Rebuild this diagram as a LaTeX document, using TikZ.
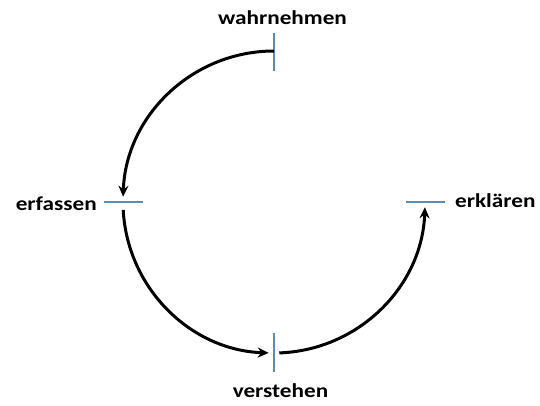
\documentclass[tikz,border=0pt]{standalone}
\usepackage{fontspec}
\setmainfont{Carlito}
\usetikzlibrary{calc,arrows.meta}
\definecolor{tickblue}{HTML}{5B8DB8}
\newcommand\lbtext[1]{\scalebox{1}[0.85]{#1}}
\tikzset{
  lbl/.style={font=\fontsize{23.2}{26}\selectfont\bfseries, inner sep=0pt},
  tickline/.style={draw=tickblue, line width=1.8pt},
  flow/.style={draw=black, line width=3pt, -{Stealth[length=11pt,width=10pt]}}
}
\begin{document}
\begin{tikzpicture}[x=1pt,y=1pt]
\useasboundingbox (0,0) rectangle (540,405);
\coordinate (C) at (274,203);
\def\R{151}
% ticks
\coordinate (tT) at ($(C)+(90:\R)$);
\coordinate (tL) at ($(C)+(180:\R)$);
\coordinate (tB) at ($(C)+(270:\R)$);
\coordinate (tR) at ($(C)+(0:\R)$);
\draw[tickline] ($(tT)+(0,18)$) -- ($(tT)+(0,-20)$);
\draw[tickline] ($(tL)+(-19,0)$) -- ($(tL)+(20,0)$);
\draw[tickline] ($(tB)+(0,20)$) -- ($(tB)+(0,-19)$);
\draw[tickline] ($(tR)+(-19,0)$) -- ($(tR)+(20,0)$);
% labels
\node[lbl, anchor=base] (w) at (282.5,380) {\lbtext{wahrnehmen}};
\node[lbl, anchor=base east] (e1) at (97,195) {\lbtext{erfassen}};
\node[lbl, anchor=base west] (e2) at (455,198) {\lbtext{erklären}};
\node[lbl, anchor=base] (v) at (280.5,8) {\lbtext{verstehen}};
% arcs
\coordinate (a1) at ($(C)+(90:\R)$);
\coordinate (a2) at ($(C)+(183:\R)$);
\coordinate (a3) at ($(C)+(272:\R)$);
\draw[flow] (a1) arc[start angle=90, end angle=178, radius=\R];
\draw[flow] (a2) arc[start angle=183, end angle=268, radius=\R];
\draw[flow] (a3) arc[start angle=272, end angle=358, radius=\R];
\end{tikzpicture}
\end{document}
